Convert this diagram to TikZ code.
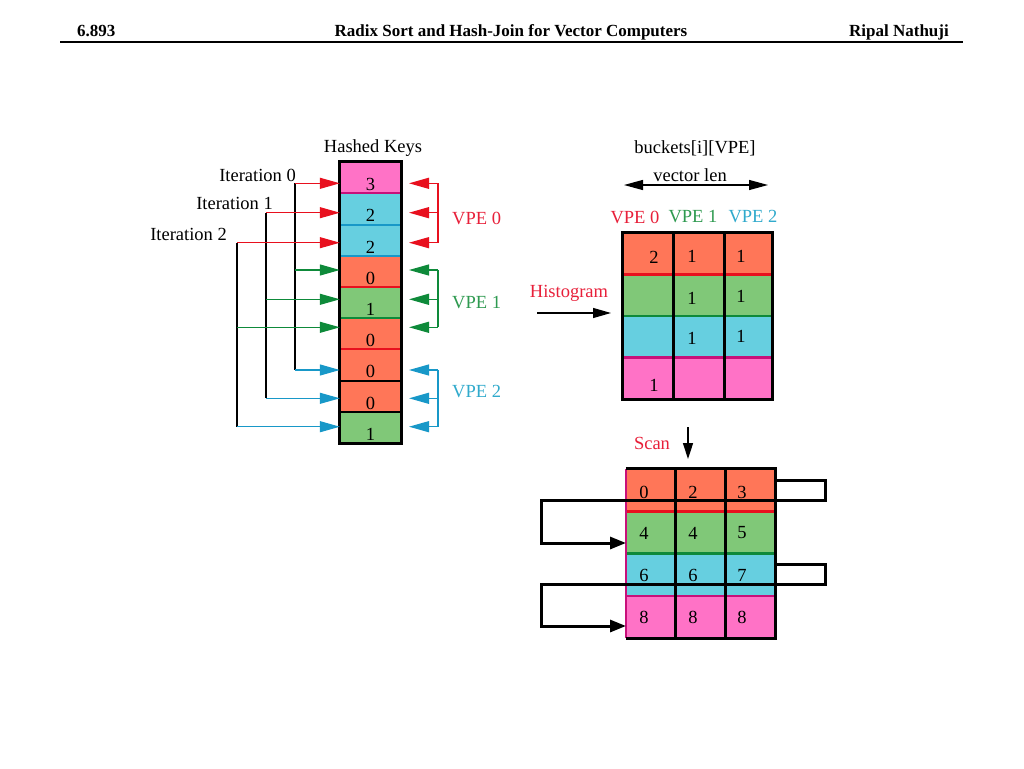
\documentclass[tikz,border=0pt]{standalone}
\usepackage{fontspec}
\setmainfont{Liberation Serif}
\usetikzlibrary{arrows.meta}
\definecolor{corange}{HTML}{FF7658}
\definecolor{cgreen}{HTML}{80C878}
\definecolor{ccyan}{HTML}{66CFE0}
\definecolor{cpink}{HTML}{FF72C6}
\definecolor{lred}{HTML}{E8101E}
\definecolor{lgreen}{HTML}{0E8A3A}
\definecolor{lblue}{HTML}{1898C8}
\definecolor{lmag}{HTML}{C8107A}
\definecolor{tred}{HTML}{E8203A}
\definecolor{tgreen}{HTML}{2E9A50}
\definecolor{tcyan}{HTML}{30AACC}
\begin{document}
\begin{tikzpicture}[x=1pt,y=-1pt,
  every node/.style={font=\fontsize{18.5}{22}\selectfont, inner sep=0pt},
  kcell/.style={draw=none, minimum width=61pt, minimum height=31.2pt},
  hrow/.style={draw=none, minimum width=149pt, minimum height=41.5pt},
  srow/.style={draw=none, minimum width=149pt, minimum height=42.25pt},
  feed/.style={line width=1.2pt, -{Triangle[length=20pt,width=11pt]}},
  conn/.style={line width=1.2pt},
  blackarrow/.style={line width=1.2pt, -{Triangle[length=18pt,width=10pt]}},
  looparrow/.style={line width=3pt, -{Triangle[length=16pt,width=12pt]}},
  hdr/.style={font=\fontsize{17}{20}\selectfont\bfseries}]
\useasboundingbox (0,0) rectangle (1024,768);
\fill[white] (0,0) rectangle (1024,768);

% header
\node[hdr, anchor=base west] (hnum) at (77,37) {6.893};
\node[hdr, anchor=base] (htitle) at (511,37) {Radix Sort and Hash-Join for Vector Computers};
\node[hdr, anchor=base east] (hauth) at (949,37) {Ripal Nathuji};
\coordinate (rulel) at (60,42.5);
\coordinate (ruler) at (963,42.5);
\draw[line width=2pt] (rulel) -- (ruler);

% hashed keys column
\node (hk) at (373,148) {Hashed Keys};
\foreach \i/\c in {0/cpink,1/ccyan,2/ccyan,3/corange,4/cgreen,5/corange,6/corange,7/corange,8/cgreen}
  \node[kcell, fill=\c] (k\i) at (370.5,{162+31.2*(\i+0.5)}) {};
\foreach \i/\n in {0/3,1/2,2/2,3/0,4/1,5/0,6/0,7/0,8/1}
  \node (kn\i) at ([yshift=-7pt]k\i.center) {\n};
\foreach \i/\c in {0/lmag,1/lblue,2/lblue,3/lred,4/lgreen,5/lred,6/black,7/black}
  \draw[\c, line width=2pt] (k\i.south west) -- (k\i.south east);
\draw[line width=3pt] (k0.north west) rectangle (k8.south east);

% arrow rows
\foreach \i/\y in {0/183.3,1/212.7,2/242.7,3/270,4/299.3,5/327.3,6/370,7/398.3,8/426.7}
  \coordinate (r\i) at (0,\y);
\coordinate (v0) at (295,0);
\coordinate (v1) at (266,0);
\coordinate (v2) at (237,0);
\coordinate (bk) at (438,0);
\coordinate (kt) at (409,0);

% iteration labels
\node[anchor=base east] (it0) at (296,181) {Iteration 0};
\node[anchor=base east] (it1) at (273,209) {Iteration 1};
\node[anchor=base east] (it2) at (227,240.5) {Iteration 2};

% iteration lines
\draw[conn] (v0|-r0) -- (v0|-r6);
\draw[conn] (v1|-r1) -- (v1|-r7);
\draw[conn] (v2|-r2) -- (v2|-r8);
\foreach \i/\v/\c in {0/v0/lred,1/v1/lred,2/v2/lred,3/v0/lgreen,4/v1/lgreen,5/v2/lgreen,6/v0/lblue,7/v1/lblue,8/v2/lblue}
  \draw[feed, \c] (\v|-r\i) -- (k\i.west|-r\i);

% VPE brackets
\foreach \i/\c in {0/lred,1/lred,2/lred,3/lgreen,4/lgreen,5/lgreen,6/lblue,7/lblue,8/lblue}
  \draw[feed, \c] (bk|-r\i) -- (kt|-r\i);
\draw[conn, lred] (bk|-r0) -- (bk|-r2);
\draw[conn, lgreen] (bk|-r3) -- (bk|-r5);
\draw[conn, lblue] (bk|-r6) -- (bk|-r8);
\node[anchor=west, text=tred] (vpe0) at (452,218) {VPE 0};
\node[anchor=west, text=tgreen] (vpe1) at (452,303) {VPE 1};
\node[anchor=west, text=tcyan] (vpe2) at (452,392) {VPE 2};

% histogram table
\node (bkts) at (695,148) {buckets[i][VPE]};
\node (vlen) at (690,175) {vector len};
\coordinate (vl) at (624,185);
\coordinate (vr) at (768,185);
\draw[line width=1.2pt, {Triangle[length=19pt,width=10pt]}-{Triangle[length=19pt,width=10pt]}] (vl) -- (vr);
\node[text=tred] (hv0) at (635,217) {VPE 0};
\node[text=tgreen] (hv1) at (693,217) {VPE 1};
\node[text=tcyan] (hv2) at (753,217) {VPE 2};

\foreach \i/\c in {0/corange,1/cgreen,2/ccyan,3/cpink}
  \node[hrow, fill=\c] (h\i) at (697.5,{233+41.5*(\i+0.5)}) {};
\draw[lred, line width=2.5pt] (h0.south west) -- (h0.south east);
\draw[lgreen, line width=2.5pt] (h1.south west) -- (h1.south east);
\draw[lmag, line width=2.5pt] (h2.south west) -- (h2.south east);
\draw[line width=3pt] ([xshift=51pt]h0.north west) -- ([xshift=51pt]h3.south west);
\draw[line width=3pt] ([xshift=102pt]h0.north west) -- ([xshift=102pt]h3.south west);
\draw[line width=3pt] (h0.north west) rectangle (h3.south east);
\node (hn00) at (654,257) {2};
\node (hn01) at (692,256) {1};
\node (hn02) at (741,256) {1};
\node (hn11) at (692,298) {1};
\node (hn12) at (741,296) {1};
\node (hn21) at (692,338) {1};
\node (hn22) at (741,336) {1};
\node (hn30) at (654,385) {1};

\node[text=tred] (histo) at (569,293) {Histogram};
\coordinate (hsa) at (537,313);
\coordinate (hsb) at (611,313);
\draw[blackarrow] (hsa) -- (hsb);

% scan
\node[text=tred] (scan) at (652,443) {Scan};
\coordinate (sca) at (688,427);
\coordinate (scb) at (688,459);
\draw[line width=1.5pt, -{Triangle[length=16pt,width=10pt]}] (sca) -- (scb);

\foreach \i/\c in {0/corange,1/cgreen,2/ccyan,3/cpink}
  \node[srow, fill=\c] (s\i) at (700.5,{469+42.25*(\i+0.5)}) {};
\draw[lred, line width=2.5pt] (s0.south west) -- (s0.south east);
\draw[lgreen, line width=2.5pt] (s1.south west) -- (s1.south east);
\draw[lmag, line width=2.5pt] (s2.south west) -- (s2.south east);
\draw[line width=3pt] ([xshift=50pt]s0.north west) -- ([xshift=50pt]s3.south west);
\draw[line width=3pt] ([xshift=100pt]s0.north west) -- ([xshift=100pt]s3.south west);
\draw[lmag, line width=1.5pt] (s0.north west) -- (s3.south west);
\draw[line width=3pt] (s0.north west) -- (s0.north east) -- (s3.south east) -- (s3.south west);
\foreach \r/\y/\a/\b/\c in {0/492/0/2/3,1/533/4/4/5,2/575/6/6/7,3/617/8/8/8}{
  \node (sn\r a) at (644,\y) {\a};
  \node (sn\r b) at (693,\y) {\b};
  \node (sn\r c) at (742,\y) {\c};
}
% loops
\coordinate (lp1s) at (775,480);
\coordinate (lp1a) at (825,480);
\coordinate (lp1b) at (825,500);
\coordinate (lp1c) at (541,500);
\coordinate (lp1d) at (541,543);
\coordinate (lp1e) at (626,543);
\draw[looparrow] (lp1s) -- (lp1a) -- (lp1b) -- (lp1c) -- (lp1d) -- (lp1e);
\coordinate (lp2s) at (775,564);
\coordinate (lp2a) at (825,564);
\coordinate (lp2b) at (825,584);
\coordinate (lp2c) at (541,584);
\coordinate (lp2d) at (541,626);
\coordinate (lp2e) at (626,626);
\draw[looparrow] (lp2s) -- (lp2a) -- (lp2b) -- (lp2c) -- (lp2d) -- (lp2e);
\end{tikzpicture}
\end{document}
